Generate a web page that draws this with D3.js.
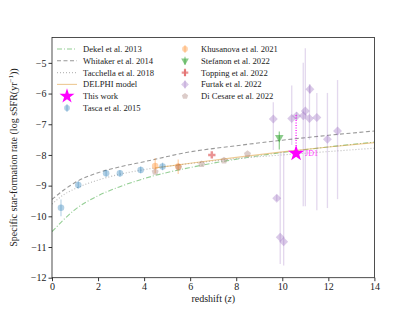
<!DOCTYPE html>
<html>
<head>
<meta charset="utf-8">
<script src="https://cdn.jsdelivr.net/npm/d3@7"></script>
<style>
  html, body { margin: 0; padding: 0; background: #fff; }
  svg { display: block; font-family: "Liberation Serif", "DejaVu Serif", serif; }
  .axis path { display: none; }
  .axis line { stroke: #000; stroke-width: 0.8; }
  .axis text { font-size: 10px; fill: #222; font-family: "Liberation Serif", serif; }
</style>
</head>
<body>
<svg id="chart" width="415" height="312"></svg>
<script>
// model curves: redshift and log sSFR
const dekelZ = [0, 1, 2, 3, 4, 6, 8, 10, 12, 14];
const dekelV = [-10.5, -9.78, -9.33, -9.02, -8.77, -8.41, -8.14, -7.92, -7.74, -7.58];
const whitakerZ = [0, 0.5, 1, 2, 3, 4, 6, 8, 10, 12, 14];
const whitakerV = [-9.45, -9.15, -8.9, -8.58, -8.38, -8.22, -7.9, -7.7, -7.52, -7.36, -7.22];
const tacchellaZ = [0, 0.5, 1, 2, 3, 4, 6, 8, 10, 12, 14];
const tacchellaV = [-9.6, -9.3, -9.1, -8.82, -8.62, -8.48, -8.28, -8.12, -8.0, -7.89, -7.78];
const delphiZ = [4.5, 6, 8, 10, 12, 14];
const delphiV = [-8.42, -8.27, -8.08, -7.9, -7.74, -7.6];

// observations: z, value, upper end, lower end of the error bar
const tascaZ = [0.39, 1.14, 2.35, 2.95, 3.85, 4.8];
const tascaV = [-9.72, -8.98, -8.6, -8.6, -8.49, -8.38];
const tascaHi = [-9.45, -8.85, -8.5, -8.5, -8.38, -8.25];
const tascaLo = [-10.0, -9.1, -8.7, -8.7, -8.6, -8.5];

const khusZ = [4.48, 5.48];
const khusV = [-8.36, -8.38];
const khusHi = [-8.1, -8.15];
const khusLo = [-8.6, -8.62];

const stefZ = [9.87];
const stefV = [-7.43];
const stefHi = [-7.24];
const stefLo = [-7.82];

const toppZ = [6.94];
const toppV = [-8.0];

const furtakZ = [9.61, 10.41, 10.62, 10.91, 11.0, 11.18, 11.5, 11.2, 11.96, 12.4, 9.76, 9.91, 10.06];
const furtakV = [-6.83, -6.81, -6.73, -6.72, -6.57, -6.81, -6.78, -5.86, -7.49, -7.22, -9.41, -10.68, -10.83];
const furtakHi = [-6.28, -5.74, -6.6, -5.0, -4.52, -5.7, -5.98, -5.7, -5.98, -5.56, -9.3, -7.9, -7.9];
const furtakLo = [-7.84, -7.68, -6.85, -9.67, -9.67, -7.5, -9.8, -6.0, -9.73, -9.44, -9.5, -11.55, -11.6];

const cesareZ = [4.48, 5.5, 6.5, 7.47, 8.49];
const cesareV = [-8.55, -8.4, -8.3, -8.18, -7.97];

const jd1Z = 10.6, jd1V = -7.95, jd1Top = -6.7;

const xTicks = [0, 2, 4, 6, 8, 10, 12, 14];
const yTicks = [-12, -11, -10, -9, -8, -7, -6, -5];

const W = 415, H = 312;
const L = 52, R = 374.4, T = 37.4, B = 277.7;

const svg = d3.select('#chart');
const x = d3.scaleLinear().domain([0, 14]).range([L, R]);
const y = d3.scaleLinear().domain([-12, -4.17]).range([B, T]);

const C = {
  blue: '#1f77b4', orange: '#ff7f0e', green: '#2ca02c', red: '#d62728',
  purple: '#9467bd', brown: '#8c564b', magenta: '#ff00ff'
};

// pentagon for the Di Cesare points
const pentagon = {
  draw(ctx, size) {
    const r = Math.sqrt(size / 2.38);
    for (let i = 0; i < 5; i++) {
      const a = -Math.PI / 2 + i * 2 * Math.PI / 5;
      if (i === 0) ctx.moveTo(r * Math.cos(a), r * Math.sin(a));
      else ctx.lineTo(r * Math.cos(a), r * Math.sin(a));
    }
    ctx.closePath();
  }
};

const clipId = 'plotclip';
svg.append('clipPath').attr('id', clipId)
  .append('rect').attr('x', L).attr('y', T).attr('width', R - L).attr('height', B - T);

const plot = svg.append('g').attr('clip-path', `url(#${clipId})`);

function curve(zs, vs, color, dash, width, op) {
  const line = d3.line().x(d => x(d[0])).y(d => y(d[1])).curve(d3.curveMonotoneX);
  plot.append('path')
    .attr('d', line(zs.map((z, i) => [z, vs[i]])))
    .attr('fill', 'none').attr('stroke', color)
    .attr('stroke-width', width).attr('stroke-dasharray', dash)
    .attr('opacity', op);
}

curve(dekelZ, dekelV, C.green, '5,2,1,2', 1.1, 0.5);
curve(whitakerZ, whitakerV, '#777', '4,2.5', 1.1, 0.75);
curve(tacchellaZ, tacchellaV, '#aaa', '1,2', 1.1, 0.8);
curve(delphiZ, delphiV, '#e0a040', null, 1.1, 0.55);

function errbars(zs, his, los, color, op, w) {
  plot.append('g').selectAll('line')
    .data(zs.map((z, i) => [z, his[i], los[i]]))
    .join('line')
    .attr('x1', d => x(d[0])).attr('x2', d => x(d[0]))
    .attr('y1', d => y(d[1])).attr('y2', d => y(d[2]))
    .attr('stroke', color).attr('stroke-width', w || 1.2).attr('opacity', op);
}

function points(zs, vs, type, size, color, op, rot) {
  const sym = d3.symbol().type(type).size(size);
  plot.append('g').selectAll('path')
    .data(zs.map((z, i) => [z, vs[i]]))
    .join('path')
    .attr('d', sym)
    .attr('transform', d => `translate(${x(d[0])},${y(d[1])}) rotate(${rot || 0})`)
    .attr('fill', color).attr('opacity', op);
}

errbars(tascaZ, tascaHi, tascaLo, C.blue, 0.3);
points(tascaZ, tascaV, d3.symbolCircle, 34, C.blue, 0.35);
errbars(khusZ, khusHi, khusLo, C.orange, 0.35);
points(khusZ, khusV, d3.symbolCircle, 34, C.orange, 0.35);
points(cesareZ, cesareV, pentagon, 32, C.brown, 0.3);
errbars(stefZ, stefHi, stefLo, C.green, 0.55);
points(stefZ, stefV, d3.symbolTriangle, 32, C.green, 0.55, 180);
points(toppZ, toppV, d3.symbolCross, 30, C.red, 0.5);
errbars(furtakZ, furtakHi, furtakLo, C.purple, 0.25, 1.3);
points(furtakZ, furtakV, d3.symbolSquare, 40, C.purple, 0.35, 45);

// this work
plot.append('line')
  .attr('x1', x(jd1Z)).attr('x2', x(jd1Z))
  .attr('y1', y(jd1Top)).attr('y2', y(jd1V))
  .attr('stroke', C.magenta).attr('stroke-width', 1.2).attr('stroke-dasharray', '1,1.5');
points([jd1Z], [jd1V], d3.symbolStar, 80, C.magenta, 1);
svg.append('text')
  .attr('x', x(jd1Z) + 9).attr('y', y(jd1V) + 3)
  .attr('font-size', 8).attr('fill', C.magenta).attr('opacity', 0.8).text('JD1');

// axes
svg.append('g').attr('class', 'axis')
  .attr('transform', `translate(0,${B})`)
  .call(d3.axisBottom(x).tickValues(xTicks).tickSize(3.5).tickPadding(2));
svg.append('g').attr('class', 'axis')
  .attr('transform', `translate(${L},0)`)
  .call(d3.axisLeft(y).tickValues(yTicks).tickSize(3.5).tickPadding(2)
    .tickFormat(d => String(d).replace('-', '\u2212')));

svg.append('rect')
  .attr('x', L).attr('y', T).attr('width', R - L).attr('height', B - T)
  .attr('fill', 'none').attr('stroke', '#222').attr('stroke-width', 0.8);

svg.append('text')
  .attr('x', (L + R) / 2).attr('y', 302)
  .attr('text-anchor', 'middle').attr('font-size', 10).attr('fill', '#222')
  .html('redshift (<tspan font-style="italic">z</tspan>)');

const yl = svg.append('text')
  .attr('transform', `translate(17,${(T + B) / 2}) rotate(-90)`)
  .attr('text-anchor', 'middle').attr('font-size', 10).attr('fill', '#222');
yl.append('tspan').text('Specific star-formation rate (log sSFR(yr');
yl.append('tspan').attr('dy', -4).attr('font-size', 7).text('\u22121');
yl.append('tspan').attr('dy', 4).text('))');

// legend
const legLeft = [
  { label: 'Dekel et al. 2013', kind: 'line', color: C.green, dash: '5,2,1,2', op: 0.5 },
  { label: 'Whitaker et al. 2014', kind: 'line', color: '#777', dash: '4,2.5', op: 0.75 },
  { label: 'Tacchella et al. 2018', kind: 'line', color: '#aaa', dash: '1,2', op: 0.8 },
  { label: 'DELPHI model', kind: 'line', color: '#e0a040', dash: null, op: 0.55 },
  { label: 'This work', kind: 'mark', type: d3.symbolStar, size: 70, color: C.magenta, op: 1 },
  { label: 'Tasca et al. 2015', kind: 'mark', type: d3.symbolCircle, size: 26, color: C.blue, op: 0.35, bar: true }
];
const legRight = [
  { label: 'Khusanova et al. 2021', type: d3.symbolCircle, size: 26, color: C.orange, op: 0.35, bar: true },
  { label: 'Stefanon et al. 2022', type: d3.symbolTriangle, size: 26, color: C.green, op: 0.55, rot: 180, bar: true },
  { label: 'Topping et al. 2022', type: d3.symbolCross, size: 24, color: C.red, op: 0.5, bar: true },
  { label: 'Furtak et al. 2022', type: d3.symbolSquare, size: 30, color: C.purple, op: 0.35, rot: 45, bar: true },
  { label: 'Di Cesare et al. 2022', type: pentagon, size: 26, color: C.brown, op: 0.3 }
];
const rowY = i => 49 + i * 11.8;

function legendRow(item, i, hx, tx) {
  const g = svg.append('g');
  const cy = rowY(i);
  if (item.kind === 'line') {
    g.append('line').attr('x1', hx - 10).attr('x2', hx + 10).attr('y1', cy).attr('y2', cy)
      .attr('stroke', item.color).attr('stroke-width', 1.1)
      .attr('stroke-dasharray', item.dash).attr('opacity', item.op);
  } else {
    if (item.bar) {
      g.append('line').attr('x1', hx).attr('x2', hx).attr('y1', cy - 4).attr('y2', cy + 4)
        .attr('stroke', item.color).attr('stroke-width', 1.1).attr('opacity', item.op);
    }
    g.append('path').attr('d', d3.symbol().type(item.type).size(item.size))
      .attr('transform', `translate(${hx},${cy}) rotate(${item.rot || 0})`)
      .attr('fill', item.color).attr('opacity', item.op);
  }
  g.append('text').attr('x', tx).attr('y', cy + 2.9)
    .attr('font-size', 8.6).attr('fill', '#222').text(item.label);
}
legLeft.forEach((d, i) => legendRow(d, i, 67, 83));
legRight.forEach((d, i) => legendRow(Object.assign({ kind: 'mark' }, d), i, 185, 201));
</script>
</body>
</html>
